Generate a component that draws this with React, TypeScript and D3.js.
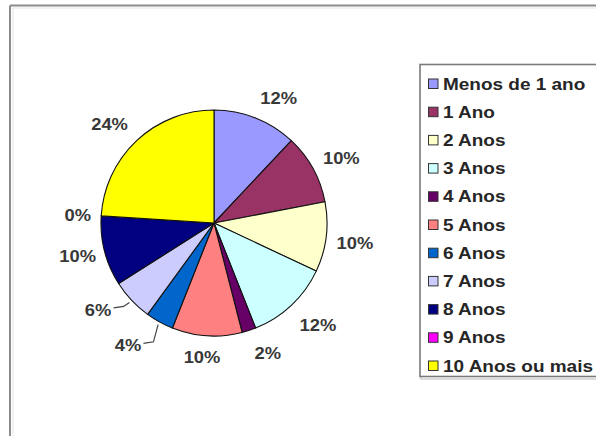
import React from "react";
import * as d3 from "d3";

const categories = [
  "Menos de 1 ano",
  "1 Ano",
  "2 Anos",
  "3 Anos",
  "4 Anos",
  "5 Anos",
  "6 Anos",
  "7 Anos",
  "8 Anos",
  "9 Anos",
  "10 Anos ou mais",
];
const values = [12, 10, 10, 12, 2, 10, 4, 6, 10, 0, 24];
const percentLabels = ["12%", "10%", "10%", "12%", "2%", "10%", "4%", "6%", "10%", "0%", "24%"];
const colors = [
  "#9999FF",
  "#993366",
  "#FFFFCC",
  "#CCFFFF",
  "#660066",
  "#FF8080",
  "#0066CC",
  "#CCCCFF",
  "#000080",
  "#FF00FF",
  "#FFFF00",
];

// layout (not data)
const W = 596;
const H = 436;
const CX = 214;
const CY = 223;
const R = 113;
const LABEL_R = 135;
const labelNudge: [number, number][] = [
  [15, 0], [9, 0], [7, 3], [11.5, 3.5], [12, 1.5], [-3.5, -0.5],
  [-21, 4], [-17.5, -5.5], [-5.5, -0.5], [-1.5, 0.5], [-12, -1],
];
const leaderSlices = [6, 7];

export default function App() {
  const pie = d3
    .pie<number>()
    .sort(null)
    .value((d) => d)
    .startAngle(0)
    .endAngle(2 * Math.PI);
  const arcs = pie(values);
  const arcGen = d3.arc<d3.PieArcDatum<number>>().innerRadius(0).outerRadius(R);

  const polar = (a: number, r: number) => [CX + r * Math.sin(a), CY - r * Math.cos(a)];

  const legendX = 420;
  const legendY = 64.5;
  const rowH = 28.2;

  return (
    <svg
      width={W}
      height={H}
      style={{ position: "absolute", left: 0, top: 0, display: "block", background: "#fff" }}
      fontFamily="Arial, 'Liberation Sans', sans-serif"
    >
      <rect x={0} y={0} width={W} height={H} fill="#fff" />
      {/* outer frame */}
      <line x1={10} y1={5.5} x2={W} y2={5.5} stroke="#8c8c8c" strokeWidth={2} />
      <line x1={10} y1={5.5} x2={10} y2={H} stroke="#8c8c8c" strokeWidth={2} />
      <line x1={12} y1={8} x2={W} y2={8} stroke="#e4e4e4" strokeWidth={1} />
      <line x1={13} y1={8} x2={13} y2={H} stroke="#e4e4e4" strokeWidth={1} />

      {/* pie */}
      <g transform={`translate(${CX},${CY})`}>
        {arcs.map((a, i) => (
          <path key={i} d={arcGen(a) || ""} fill={colors[i]} stroke="#111" strokeWidth={1.1} strokeLinejoin="round" />
        ))}
      </g>

      {/* labels */}
      {arcs.map((a, i) => {
        const mid = (a.startAngle + a.endAngle) / 2;
        const [bx, by] = polar(mid, LABEL_R);
        const x = bx + labelNudge[i][0];
        const y = by + labelNudge[i][1];
        return (
          <g key={i}>
            <text
              x={x}
              y={y}
              dy="0.36em"
              textAnchor="middle"
              fontSize={17}
              fontWeight="bold"
              fill="#383838"
              transform={`translate(${x},0) scale(1.08,1) translate(${-x},0)`}
            >
              {percentLabels[i]}
            </text>
            {leaderSlices.includes(i) &&
              (() => {
                const [ex, ey] = polar(mid, R + 3);
                const sx = x + 15.5;
                const sy = y - 2;
                const mx = sx + 10;
                const my = sy - 1.5;
                return (
                  <polyline
                    points={`${sx},${sy} ${mx},${my} ${ex},${ey}`}
                    fill="none"
                    stroke="#444"
                    strokeWidth={1.2}
                  />
                );
              })()}
          </g>
        );
      })}

      {/* legend */}
      <rect x={legendX + 1} y={legendY + 1.5} width={W} height={313} fill="none" stroke="#d0d0d0" strokeWidth={1.5} />
      <rect x={legendX} y={legendY} width={W} height={312} fill="#fff" stroke="#7a7a7a" strokeWidth={1.6} />
      {categories.map((c, i) => {
        const cy = 83.5 + i * rowH;
        return (
          <g key={c}>
            <rect x={428.5} y={cy - 4.5} width={9.5} height={9.5} fill={colors[i]} stroke="#333" strokeWidth={1} />
            <text
              x={443}
              y={cy}
              dy="0.37em"
              fontSize={16.5}
              fontWeight="bold"
              fill="#262626"
              transform={`translate(443,0) scale(1.15,1) translate(-443,0)`}
            >
              {c}
            </text>
          </g>
        );
      })}
    </svg>
  );
}
